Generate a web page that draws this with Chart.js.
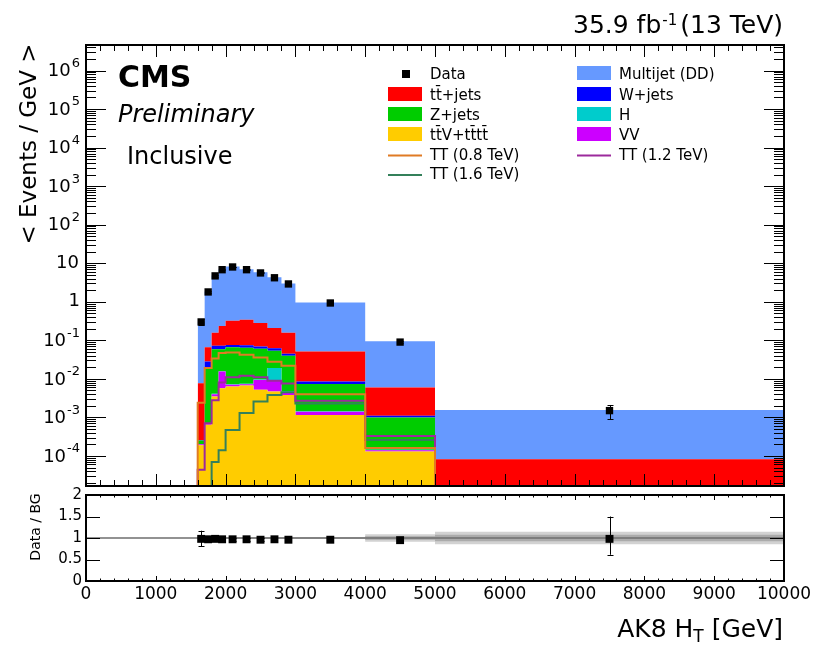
<!DOCTYPE html>
<html>
<head>
<meta charset="utf-8">
<script src="https://cdn.jsdelivr.net/npm/chart.js@4.4.1/dist/chart.umd.min.js"></script>
<style>
html,body{margin:0;padding:0;background:#fff;}
#wrap{position:relative;width:817px;height:646px;background:#fff;}
canvas{position:absolute;left:0;top:0;}
</style>
</head>
<body>
<div id="wrap">
<canvas id="main" width="817" height="646"></canvas>
<canvas id="ratio" width="817" height="646"></canvas>
</div>
<script>
// ---- histogram binning, AK8 HT [GeV] ----
const binEdges   = [1600, 1700, 1800, 1900, 2000, 2200, 2400, 2600, 2800, 3000, 4000, 5000, 10000];
const binCenters = [1650, 1750, 1850, 1950, 2100, 2300, 2500, 2700, 2900, 3500, 4500, 7500];

// ---- background yields, < Events / GeV > ----
const multijet  = [0.302, 1.78, 4.64, 6.76, 7.88, 6.66, 5.52, 4.09, 2.84, 0.909, 0.088, 0.00147];
const ttbarJets = [0.0074, 0.038, 0.086, 0.165, 0.244, 0.266, 0.211, 0.148, 0.113, 0.0425, 0.0049, 0.000082];
const wJets     = [0.00001, 0.008, 0.013, 0.013, 0.010, 0.010, 0.009, 0.008, 0.005, 0.0011, 0.0001, 0];
const zJets     = [0.000045, 0.0193, 0.0549, 0.0433, 0.0587, 0.0565, 0.0504, 0.035, 0.0352, 0.00595, 0.000855, 0];
const higgs     = [0.000005, 0.00002, 0.0001, 0.0002, 0.0003, 0.0003, 0.0003, 0.0097, 0.0003, 0.00005, 0.000005, 0];
const diboson   = [0.00001, 0.00006, 0.0005, 0.0098, 0.0007, 0.0005, 0.0041, 0.0046, 0.0007, 0.00025, 0.00001, 0];
const ttvTttt   = [0.00019, 0.00064, 0.0035, 0.0057, 0.0063, 0.0067, 0.0052, 0.0047, 0.0038, 0.00115, 0.00013, 0];

// ---- signal templates (vector-like T pair) ----
const tt800  = [0.0024, 0.019, 0.034, 0.047, 0.048, 0.042, 0.036, 0.028, 0.022, 0.004, 0.00016, 0];
const tt1200 = [0.000044, 0.0007, 0.0028, 0.008, 0.011, 0.012, 0.011, 0.009, 0.0076, 0.0027, 0.00033, 0];
const tt1600 = [0, 0, 0.00007, 0.00014, 0.00047, 0.0013, 0.0026, 0.0038, 0.0045, 0.0023, 0.00026, 0];

// ---- observed data ----
const dataVals = [0.30, 1.8, 4.7, 6.8, 8.0, 6.8, 5.6, 4.2, 2.9, 0.93, 0.09, 0.0015];
const dataErr  = [0.055, 0.13, 0.2, 0.25, 0.2, 0.18, 0.17, 0.14, 0.12, 0.03, 0.006, 0.0006];

// ---- data / background ratio ----
const ratioVals    = [0.98, 0.97, 0.98, 0.97, 0.97, 0.97, 0.96, 0.97, 0.96, 0.96, 0.95, 0.98];
const ratioErrUp   = [0.19, 0.07, 0.05, 0.04, 0.03, 0.03, 0.03, 0.035, 0.04, 0.03, 0.065, 0.52];
const ratioErrDown = [0.17, 0.07, 0.05, 0.04, 0.03, 0.03, 0.03, 0.035, 0.04, 0.03, 0.065, 0.37];
const bandOuter    = [0.02, 0.02, 0.02, 0.02, 0.02, 0.02, 0.02, 0.02, 0.02, 0.025, 0.09, 0.145];
const bandInner    = [0.01, 0.01, 0.01, 0.01, 0.01, 0.01, 0.01, 0.01, 0.01, 0.012, 0.04, 0.075];

// ---- tick labels ----
const xTickLabels     = ['0','1000','2000','3000','4000','5000','6000','7000','8000','9000','10000'];
const yDecades        = [-4, -3, -2, -1, 0, 1, 2, 3, 4, 5, 6];
const ratioTickLabels = ['0', '0.5', '1', '1.5', '2'];

// ---- styling ----
const FONT = "'DejaVu Sans', 'Liberation Sans', sans-serif";
const COL = {
  multijet: '#6699ff', ttbar: '#ff0000', wjets: '#0000ff', zjets: '#00cc00',
  higgs: '#00cccc', ttv: '#ffcc00', vv: '#cc00ff',
  tt800: '#e07b24', tt1200: '#9c2a9c', tt1600: '#34805a'
};
const FLOOR = 1e-9;   // empty bins sit below the log axis and get clipped

// histogram outline: each value holds from its left edge to the next edge
function stepPoints(vals, openFromBottom) {
  const pts = [];
  if (openFromBottom) pts.push({x: binEdges[0], y: FLOOR});
  vals.forEach((v, i) => pts.push({x: binEdges[i], y: Math.max(v, FLOOR)}));
  pts.push({x: binEdges[binEdges.length - 1], y: Math.max(vals[vals.length - 1], FLOOR)});
  return pts;
}

// stacked backgrounds, bottom to top
const stackLayers = [
  {vals: ttvTttt, color: COL.ttv},
  {vals: diboson, color: COL.vv},
  {vals: higgs, color: COL.higgs},
  {vals: zJets, color: COL.zjets},
  {vals: wJets, color: COL.wjets},
  {vals: ttbarJets, color: COL.ttbar},
  {vals: multijet, color: COL.multijet}
];
let running = binCenters.map(() => 0);
const stackDatasets = stackLayers.map((layer, idx) => {
  running = running.map((r, i) => r + layer.vals[i]);
  return {
    data: stepPoints(running, false),
    stepped: true,
    fill: idx === 0 ? 'start' : '-1',
    backgroundColor: layer.color,
    borderColor: 'rgba(0,0,0,0)',
    borderWidth: 0,
    pointRadius: 0,
    order: 3
  };
});

const signalDatasets = [
  {vals: tt800, color: COL.tt800},
  {vals: tt1200, color: COL.tt1200},
  {vals: tt1600, color: COL.tt1600}
].map(s => ({
  data: stepPoints(s.vals, true),
  stepped: true,
  fill: false,
  borderColor: s.color,
  borderWidth: 2,
  pointRadius: 0,
  order: 1
}));

const dataDataset = {
  data: binCenters.map((x, i) => ({x, y: dataVals[i]})),
  showLine: false,
  pointStyle: 'rect',
  pointRadius: 5.2,
  backgroundColor: '#000',
  borderWidth: 0,
  order: 0
};

function drawSup(ctx, base, sup, xRight, yMid, size, supSize, raise) {
  ctx.font = size + 'px ' + FONT;
  const wb = ctx.measureText(base).width;
  ctx.font = supSize + 'px ' + FONT;
  const ws = sup ? ctx.measureText(sup).width + 1 : 0;
  const x0 = xRight - wb - ws;
  ctx.textAlign = 'left';
  ctx.textBaseline = 'middle';
  ctx.font = size + 'px ' + FONT;
  ctx.fillText(base, x0, yMid);
  if (sup) {
    ctx.font = supSize + 'px ' + FONT;
    ctx.fillText(sup, x0 + wb + 1, yMid - raise);
  }
}

function drawErrorBars(ctx, xs, ys, up, down, x, y, cap) {
  ctx.save();
  ctx.strokeStyle = '#000';
  ctx.lineWidth = 1;
  ctx.beginPath();
  xs.forEach((xv, i) => {
    const px = Math.round(x.getPixelForValue(xv)) + 0.5;
    const pTop = y.getPixelForValue(ys[i] + up[i]);
    const pBot = y.getPixelForValue(Math.max(ys[i] - down[i], 1e-12));
    ctx.moveTo(px, pTop); ctx.lineTo(px, pBot);
    if (cap) {
      ctx.moveTo(px - cap, Math.round(pTop) + 0.5); ctx.lineTo(px + cap, Math.round(pTop) + 0.5);
      ctx.moveTo(px - cap, Math.round(pBot) + 0.5); ctx.lineTo(px + cap, Math.round(pBot) + 0.5);
    }
  });
  ctx.stroke();
  ctx.restore();
}

const legendEntries = [
  {col: 0, row: 0, label: 'Data', kind: 'marker'},
  {col: 0, row: 1, label: 'tt\u0304+jets', kind: 'box', color: COL.ttbar},
  {col: 0, row: 2, label: 'Z+jets', kind: 'box', color: COL.zjets},
  {col: 0, row: 3, label: 'tt\u0304V+tt\u0304tt\u0304', kind: 'box', color: COL.ttv},
  {col: 0, row: 4, label: 'TT (0.8 TeV)', kind: 'line', color: COL.tt800},
  {col: 0, row: 5, label: 'TT (1.6 TeV)', kind: 'line', color: COL.tt1600},
  {col: 1, row: 0, label: 'Multijet (DD)', kind: 'box', color: COL.multijet},
  {col: 1, row: 1, label: 'W+jets', kind: 'box', color: COL.wjets},
  {col: 1, row: 2, label: 'H', kind: 'box', color: COL.higgs},
  {col: 1, row: 3, label: 'VV', kind: 'box', color: COL.vv},
  {col: 1, row: 4, label: 'TT (1.2 TeV)', kind: 'line', color: COL.tt1200}
];

const mainDecor = {
  id: 'mainDecor',
  afterDraw(chart) {
    const {ctx, chartArea: a, scales: {x, y}} = chart;
    drawErrorBars(ctx, binCenters, dataVals, dataErr, dataErr, x, y, 3);
    ctx.save();
    // inward ticks on all four sides
    ctx.strokeStyle = '#000';
    ctx.lineWidth = 1;
    ctx.beginPath();
    for (let k = -5; k <= 6; k++) {
      for (let m = 1; m <= 9; m++) {
        const v = m * Math.pow(10, k);
        if (v < y.min || v > y.max) continue;
        const py = Math.round(y.getPixelForValue(v)) + 0.5;
        const len = m === 1 ? 20 : 10;
        ctx.moveTo(a.left, py); ctx.lineTo(a.left + len, py);
        ctx.moveTo(a.right, py); ctx.lineTo(a.right - len, py);
      }
    }
    for (let v = 0; v <= 10000; v += 200) {
      const px = Math.round(x.getPixelForValue(v)) + 0.5;
      const len = v % 1000 === 0 ? 12 : 6;
      ctx.moveTo(px, a.bottom); ctx.lineTo(px, a.bottom - len);
      ctx.moveTo(px, a.top); ctx.lineTo(px, a.top + len);
    }
    ctx.stroke();
    ctx.lineWidth = 2;
    ctx.strokeRect(a.left, a.top, a.right - a.left, a.bottom - a.top);

    // y tick labels
    ctx.fillStyle = '#000';
    yDecades.forEach(k => {
      const py = y.getPixelForValue(Math.pow(10, k));
      if (k === 0) drawSup(ctx, '1', '', 80, py, 18, 13, 0);
      else if (k === 1) drawSup(ctx, '10', '', 79, py, 18, 13, 0);
      else drawSup(ctx, '10', String(k), 80, py + 1, 18, 13, 8);
    });

    // y axis title
    ctx.save();
    ctx.translate(36, 144);
    ctx.rotate(-Math.PI / 2);
    ctx.font = '23px ' + FONT;
    ctx.textAlign = 'center';
    ctx.textBaseline = 'alphabetic';
    ctx.fillText('< Events / GeV >', 0, 0);
    ctx.restore();

    // luminosity label
    ctx.textBaseline = 'alphabetic';
    ctx.font = '25px ' + FONT;
    ctx.textAlign = 'right';
    ctx.fillText('(13 TeV)', 783, 33);
    const wRight = ctx.measureText('(13 TeV)').width;
    ctx.font = '15px ' + FONT;
    ctx.fillText('-1', 783 - wRight - 3, 25);
    const wSup = ctx.measureText('-1').width;
    ctx.font = '25px ' + FONT;
    ctx.fillText('35.9 fb', 783 - wRight - wSup - 4, 33);

    // experiment labels
    ctx.textAlign = 'left';
    ctx.font = 'bold 30px ' + FONT;
    ctx.fillText('CMS', 118, 87);
    ctx.font = 'italic 24px ' + FONT;
    ctx.fillText('Preliminary', 118, 122);
    ctx.font = '24px ' + FONT;
    ctx.fillText('Inclusive', 127, 164);

    // legend
    const colX = [388, 577];
    const rowBase = [78.5, 99.5, 119.5, 139.5, 159.5, 179];
    ctx.font = '15px ' + FONT;
    legendEntries.forEach(e => {
      const sx = colX[e.col];
      const yb = rowBase[e.row];
      if (e.kind === 'box') {
        ctx.fillStyle = e.color;
        ctx.fillRect(sx, yb - 12.5, 34, 14);
      } else if (e.kind === 'line') {
        ctx.strokeStyle = e.color;
        ctx.lineWidth = 2;
        ctx.beginPath();
        ctx.moveTo(sx, yb - 4); ctx.lineTo(sx + 34, yb - 4);
        ctx.stroke();
      } else {
        ctx.fillStyle = '#000';
        ctx.fillRect(sx + 14, yb - 8.5, 8, 8);
      }
      ctx.fillStyle = '#000';
      ctx.fillText(e.label, sx + 42, yb);
    });
    ctx.restore();
  }
};

new Chart(document.getElementById('main'), {
  type: 'line',
  data: {datasets: [...stackDatasets, ...signalDatasets, dataDataset]},
  options: {
    responsive: false,
    animation: false,
    devicePixelRatio: 1,
    layout: {padding: {left: 86, top: 45, right: 33, bottom: 160}},
    plugins: {legend: {display: false}, tooltip: {enabled: false}},
    scales: {
      x: {type: 'linear', min: 0, max: 10000, bounds: 'data', display: false},
      y: {type: 'logarithmic', min: 1.66e-5, max: 4.6e6, bounds: 'data', display: false}
    }
  },
  plugins: [mainDecor]
});

// ---- ratio panel ----
const bandPoints = (half, sign) => stepPoints(half.map(h => 1 + sign * h), false);
const ratioDatasets = [
  {data: bandPoints(bandOuter, -1), stepped: true, fill: false, borderColor: 'rgba(0,0,0,0)', borderWidth: 0, pointRadius: 0, order: 4},
  {data: bandPoints(bandOuter, 1), stepped: true, fill: '-1', backgroundColor: '#d2d2d2', borderColor: 'rgba(0,0,0,0)', borderWidth: 0, pointRadius: 0, order: 4},
  {data: bandPoints(bandInner, -1), stepped: true, fill: false, borderColor: 'rgba(0,0,0,0)', borderWidth: 0, pointRadius: 0, order: 3},
  {data: bandPoints(bandInner, 1), stepped: true, fill: '-1', backgroundColor: '#ababab', borderColor: 'rgba(0,0,0,0)', borderWidth: 0, pointRadius: 0, order: 3},
  {data: [{x: 0, y: 1}, {x: 10000, y: 1}], fill: false, borderColor: '#6e6e6e', borderWidth: 1.5, pointRadius: 0, order: 2},
  {data: binCenters.map((x, i) => ({x, y: ratioVals[i]})), showLine: false, pointStyle: 'rect', pointRadius: 5.6, backgroundColor: '#000', borderWidth: 0, order: 0}
];

const ratioDecor = {
  id: 'ratioDecor',
  afterDraw(chart) {
    const {ctx, chartArea: a, scales: {x, y}} = chart;
    drawErrorBars(ctx, binCenters, ratioVals, ratioErrUp, ratioErrDown, x, y, 3);
    ctx.save();
    ctx.strokeStyle = '#000';
    ctx.lineWidth = 1;
    ctx.beginPath();
    ratioTickLabels.forEach(t => {
      const py = Math.round(y.getPixelForValue(Number(t))) + 0.5;
      ctx.moveTo(a.left, py); ctx.lineTo(a.left + 14, py);
      ctx.moveTo(a.right, py); ctx.lineTo(a.right - 14, py);
    });
    for (let v = 0; v <= 10000; v += 200) {
      const px = Math.round(x.getPixelForValue(v)) + 0.5;
      const len = v % 1000 === 0 ? 5 : 2.5;
      ctx.moveTo(px, a.bottom); ctx.lineTo(px, a.bottom - len);
      ctx.moveTo(px, a.top); ctx.lineTo(px, a.top + len);
    }
    ctx.stroke();
    ctx.lineWidth = 2;
    ctx.strokeRect(a.left, a.top, a.right - a.left, a.bottom - a.top);

    ctx.fillStyle = '#000';
    // y labels
    ctx.font = '15px ' + FONT;
    ctx.textAlign = 'right';
    ctx.textBaseline = 'middle';
    ratioTickLabels.forEach(t => ctx.fillText(t, 82, y.getPixelForValue(Number(t))));
    // x labels
    ctx.font = '17px ' + FONT;
    ctx.textAlign = 'center';
    ctx.textBaseline = 'top';
    xTickLabels.forEach(t => ctx.fillText(t, x.getPixelForValue(Number(t)), 586));

    // y title
    ctx.save();
    ctx.translate(40, 527);
    ctx.rotate(-Math.PI / 2);
    ctx.font = '14px ' + FONT;
    ctx.textAlign = 'center';
    ctx.textBaseline = 'alphabetic';
    ctx.fillText('Data / BG', 0, 0);
    ctx.restore();

    // x title
    ctx.textBaseline = 'alphabetic';
    ctx.textAlign = 'right';
    ctx.font = '25px ' + FONT;
    ctx.fillText('[GeV]', 783, 637);
    const wUnit = ctx.measureText(' [GeV]').width;
    ctx.font = '17px ' + FONT;
    ctx.fillText('T', 783 - wUnit, 642);
    const wT = ctx.measureText('T').width;
    ctx.font = '25px ' + FONT;
    ctx.fillText('AK8 H', 783 - wUnit - wT, 637);
    ctx.restore();
  }
};

new Chart(document.getElementById('ratio'), {
  type: 'line',
  data: {datasets: ratioDatasets},
  options: {
    responsive: false,
    animation: false,
    devicePixelRatio: 1,
    layout: {padding: {left: 86, top: 495, right: 33, bottom: 65}},
    plugins: {legend: {display: false}, tooltip: {enabled: false}},
    scales: {
      x: {type: 'linear', min: 0, max: 10000, bounds: 'data', display: false},
      y: {type: 'linear', min: 0, max: 2, bounds: 'data', display: false}
    }
  },
  plugins: [ratioDecor]
});
</script>
</body>
</html>
